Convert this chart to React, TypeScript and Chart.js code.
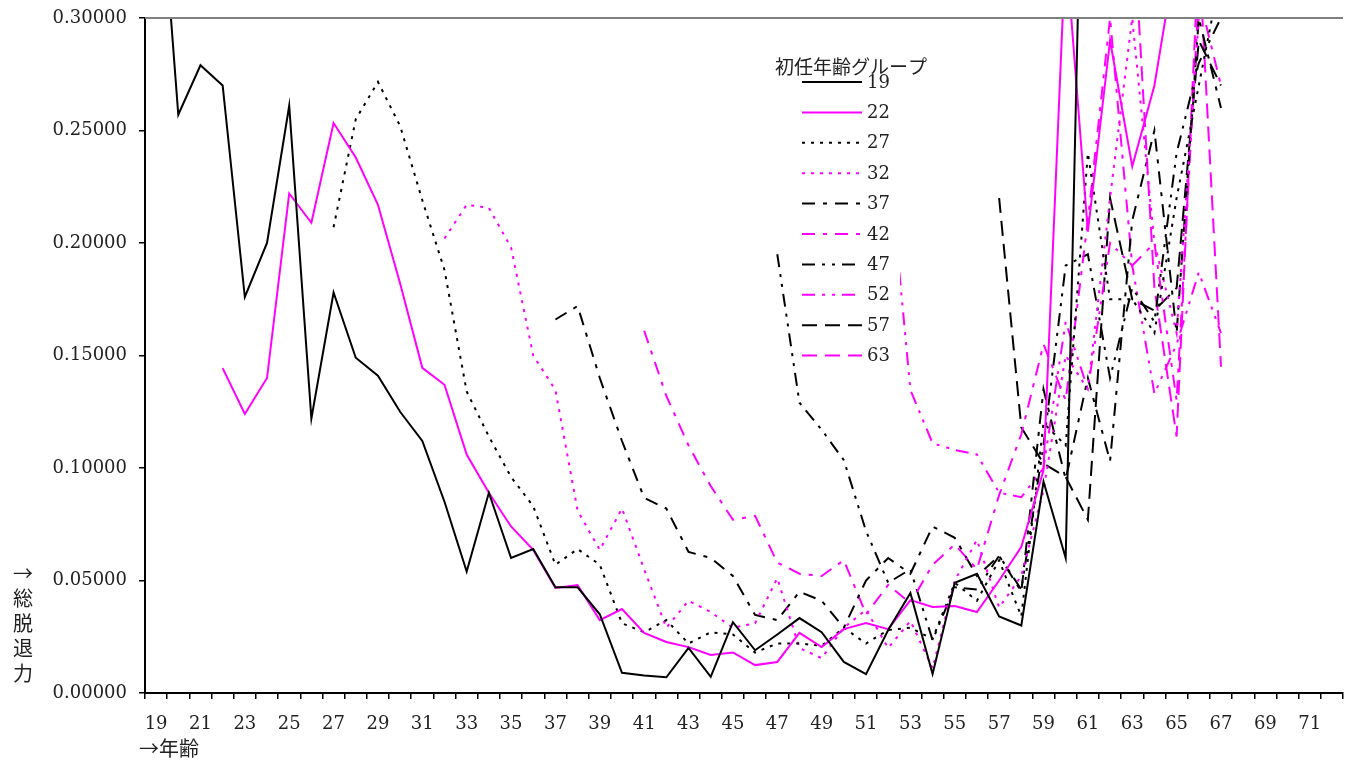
import React, { useEffect, useRef } from "react";
import { Chart, registerables } from "chart.js";

Chart.register(...registerables);

const ages = ["19","20","21","22","23","24","25","26","27","28","29","30","31","32","33","34","35","36","37","38","39","40","41","42","43","44","45","46","47","48","49","50","51","52","53","54","55","56","57","58","59","60","61","62","63","64","65","66","67","68","69","70","71","72"];

const groupLabels = ["19","22","27","32","37","42","47","52","57","63"];
const groupStartAges = [19, 22, 27, 32, 37, 41, 47, 52, 57, 63];

const g19 = [0.387,0.257,0.279,0.270,0.176,0.200,0.261,0.122,0.178,0.149,0.141,0.125,0.112,0.085,0.054,0.089,0.060,0.064,0.047,0.047,0.035,0.009,0.0078,0.007,0.020,0.0072,0.0315,0.019,0.026,0.0333,0.027,0.0138,0.0084,0.028,0.0444,0.0084,0.049,0.053,0.034,0.030,0.094,0.060,0.50];
const g22 = [0.1444,0.124,0.140,0.222,0.209,0.2533,0.238,0.217,0.182,0.1445,0.137,0.106,0.089,0.074,0.0636,0.0467,0.048,0.0324,0.0373,0.0267,0.0227,0.0204,0.0169,0.018,0.0124,0.0138,0.0267,0.0204,0.0284,0.0311,0.0284,0.0413,0.0382,0.0387,0.036,0.050,0.065,0.099,0.332,0.205,0.290,0.234,0.270,0.33,0.35,0.38];
const g27 = [0.207,0.255,0.2716,0.252,0.219,0.188,0.134,0.114,0.096,0.083,0.057,0.064,0.057,0.031,0.027,0.0324,0.022,0.027,0.026,0.018,0.022,0.022,0.021,0.029,0.022,0.028,0.029,0.024,0.049,0.041,0.059,0.034,0.120,0.110,0.240,0.175,0.175,0.160,0.220,0.270,0.320];
const g32 = [0.202,0.217,0.2156,0.198,0.150,0.1347,0.081,0.0636,0.082,0.055,0.029,0.041,0.036,0.029,0.031,0.051,0.020,0.0155,0.029,0.037,0.020,0.032,0.011,0.050,0.068,0.038,0.052,0.090,0.150,0.135,0.220,0.300,0.200,0.160,0.300,0.320];
const g37 = [0.166,0.172,0.140,0.112,0.0867,0.082,0.0627,0.060,0.052,0.0347,0.0324,0.045,0.041,0.029,0.050,0.060,0.053,0.074,0.069,0.052,0.061,0.045,0.135,0.095,0.140,0.103,0.210,0.250,0.160,0.300,0.260];
const g42 = [0.161,0.132,0.110,0.092,0.077,0.0787,0.058,0.053,0.052,0.059,0.035,0.048,0.040,0.057,0.066,0.055,0.088,0.115,0.155,0.130,0.210,0.300,0.190,0.200,0.130,0.310,0.270];
const g47 = [0.195,0.129,0.117,0.1035,0.072,0.049,0.055,0.0235,0.047,0.046,0.061,0.046,0.110,0.190,0.195,0.140,0.180,0.165,0.240,0.280,0.300];
const g52 = [0.240,0.1347,0.111,0.108,0.106,0.089,0.087,0.100,0.165,0.135,0.200,0.190,0.133,0.155,0.187,0.160];
const g57 = [0.220,0.118,0.102,0.096,0.077,0.220,0.175,0.170,0.180,0.290,0.270];
const g63 = [0.350,0.180,0.114,0.330,0.145];

const groupValues = [g19, g22, g27, g32, g37, g42, g47, g52, g57, g63];

const BLACK = "#000000";
const MAGENTA = "#FF00FF";
const groupColors = [BLACK, MAGENTA, BLACK, MAGENTA, BLACK, MAGENTA, BLACK, MAGENTA, BLACK, MAGENTA];
const groupDashes: number[][] = [
  [],
  [],
  [3, 6],
  [3, 6],
  [13, 8, 4, 8],
  [13, 8, 4, 8],
  [13, 7, 3, 7, 3, 7],
  [13, 7, 3, 7, 3, 7],
  [15, 8],
  [15, 8],
];

const yTicks = [0, 0.05, 0.1, 0.15, 0.2, 0.25, 0.3];

function buildSeries(start: number, vals: number[]) {
  const first = ages.indexOf(String(start));
  return ages.map((_, i) => {
    const k = i - first;
    return k >= 0 && k < vals.length ? vals[k] : null;
  });
}

const overlayPlugin = {
  id: "overlay",
  afterDatasetsDraw(chart: any) {
    const ctx = chart.ctx as CanvasRenderingContext2D;
    const { left, right, top } = chart.chartArea;
    ctx.save();
    ctx.setLineDash([]);
    ctx.strokeStyle = "#808080";
    ctx.lineWidth = 2;
    ctx.beginPath();
    ctx.moveTo(left, top);
    ctx.lineTo(right, top);
    ctx.stroke();

    ctx.fillStyle = "#ffffff";
    ctx.fillRect(799, 60, 101, 312);

    ctx.fillStyle = "#222222";
    ctx.font = '19px "Noto Sans CJK JP"';
    ctx.textBaseline = "middle";
    ctx.textAlign = "left";
    ctx.fillText("初任年齢グループ", 775, 67);

    chart.data.datasets.forEach((ds: any, i: number) => {
      const y = 82 + i * 30.4;
      ctx.strokeStyle = ds.borderColor;
      ctx.lineWidth = 2;
      ctx.setLineDash(ds.borderDash || []);
      ctx.beginPath();
      ctx.moveTo(802, y);
      ctx.lineTo(862, y);
      ctx.stroke();
      ctx.setLineDash([]);
      ctx.fillStyle = "#222222";
      ctx.font = '18px "DejaVu Serif"';
      ctx.fillText(ds.label, 867, y + 1);
    });

    ctx.fillStyle = "#222222";
    ctx.font = '20px "Noto Sans CJK JP"';
    ctx.textAlign = "center";
    const yChars = ["→", "総", "脱", "退", "力"];
    yChars.forEach((c, i) => {
      ctx.fillText(c, 23, 573 + i * 25);
    });

    ctx.textAlign = "left";
    ctx.fillText("→年齢", 139, 748);
    ctx.restore();
  },
};

export default function App() {
  const canvasRef = useRef<HTMLCanvasElement | null>(null);

  useEffect(() => {
    if (!canvasRef.current) return;
    Chart.defaults.font.family = '"DejaVu Serif"';
    const datasets = groupLabels.map((lab, i) => ({
      label: lab,
      data: buildSeries(groupStartAges[i], groupValues[i]),
      borderColor: groupColors[i],
      backgroundColor: groupColors[i],
      borderWidth: 2,
      borderDash: groupDashes[i],
      pointRadius: 0,
      tension: 0,
      fill: false,
      spanGaps: false,
    }));

    const chart = new Chart(canvasRef.current, {
      type: "line",
      data: { labels: ages, datasets },
      options: {
        animation: false,
        responsive: false,
        devicePixelRatio: 1,
        layout: { padding: { left: 0, right: 6, top: 18, bottom: 0 } },
        plugins: {
          legend: { display: false },
          tooltip: { enabled: false },
          title: { display: false },
        },
        scales: {
          x: {
            type: "category",
            offset: true,
            grid: {
              offset: true,
              drawOnChartArea: false,
              drawTicks: true,
              tickLength: 6,
              color: BLACK,
              lineWidth: 1.5,
            },
            border: { display: true, color: BLACK, width: 2 },
            ticks: {
              autoSkip: false,
              maxRotation: 0,
              minRotation: 0,
              color: "#222222",
              font: { size: 18, family: '"DejaVu Serif"' },
              padding: 15,
              callback: (_v: any, i: number) => (i % 2 === 0 ? ages[i] : ""),
            },
            afterFit: (scale: any) => {
              scale.height = 67;
              scale.paddingLeft = 0;
              scale.paddingRight = 0;
            },
          },
          y: {
            type: "linear",
            min: 0,
            max: 0.3,
            afterBuildTicks: (scale: any) => {
              scale.ticks = yTicks.map((v) => ({ value: v }));
            },
            grid: {
              drawOnChartArea: false,
              drawTicks: true,
              tickLength: 6,
              color: BLACK,
              lineWidth: 1.5,
            },
            border: { display: true, color: BLACK, width: 2 },
            ticks: {
              color: "#222222",
              font: { size: 18, family: '"DejaVu Serif"' },
              padding: 12,
              callback: (v: any) => Number(v).toFixed(5),
            },
            afterFit: (scale: any) => {
              scale.width = 145;
              scale.paddingTop = 0;
              scale.paddingBottom = 0;
            },
          },
        },
      },
      plugins: [overlayPlugin],
    });
    return () => chart.destroy();
  }, []);

  return (
    <div style={{ position: "fixed", left: 0, top: 0, width: 1349, height: 760, background: "#fff" }}>
      <canvas ref={canvasRef} width={1349} height={760} style={{ display: "block" }} />
    </div>
  );
}
